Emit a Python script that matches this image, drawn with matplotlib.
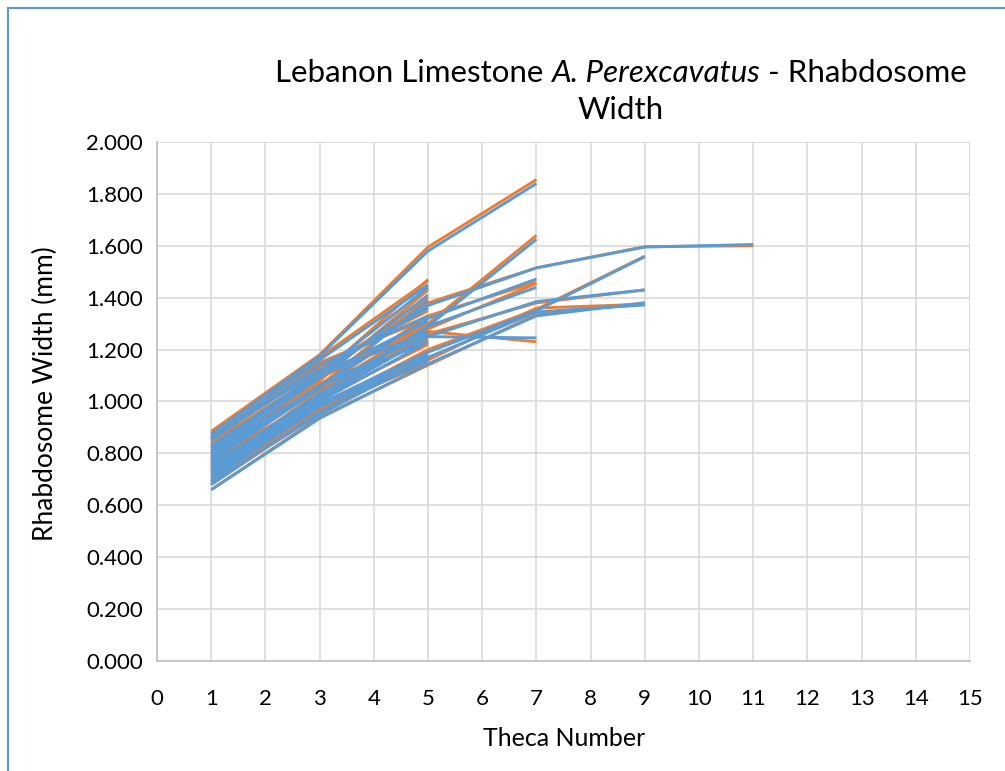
import matplotlib
matplotlib.use("Agg")
import matplotlib.pyplot as plt
from matplotlib.patches import Rectangle

plt.rcParams['font.family'] = ['Lato', 'DejaVu Sans']

theca = [1, 3, 5, 7, 9, 11]

# Orange series (one per specimen)
orange = [
    [0.885, 1.180, 1.595, 1.855],
    [0.870, 1.170, 1.465],
    [0.820, 1.100, 1.470],
    [0.790, 1.080, 1.430],
    [0.760, 1.060, 1.400],
    [0.740, 1.040, 1.300, 1.640],
    [0.800, 1.120, 1.380, 1.515, 1.597, 1.600],
    [0.780, 1.050, 1.330, 1.460],
    [0.720, 1.000, 1.280, 1.455],
    [0.770, 1.020, 1.270, 1.230],
    [0.700, 0.980, 1.200, 1.355, 1.560],
    [0.750, 1.030, 1.260, 1.380, 1.430],
    [0.680, 0.960, 1.160, 1.360, 1.375],
    [0.660, 0.940, 1.140, 1.335, 1.380],
    [0.830, 1.090, 1.300],
    [0.810, 1.050, 1.250],
    [0.730, 1.010, 1.220],
    [0.710, 0.990, 1.190],
    [0.690, 0.970, 1.170],
    [0.850, 1.130, 1.350],
    [0.860, 1.150, 1.320],
    [0.770, 1.070, 1.240],
    [0.740, 0.970, 1.150],
    [0.840, 1.110, 1.280],
]

# Blue series (one per specimen)
blue = [
    [0.875, 1.175, 1.580, 1.840],
    [0.860, 1.160, 1.450],
    [0.830, 1.110, 1.440],
    [0.800, 1.090, 1.410],
    [0.770, 1.050, 1.390],
    [0.750, 1.030, 1.290, 1.625],
    [0.810, 1.110, 1.370, 1.515, 1.595, 1.605],
    [0.790, 1.060, 1.320, 1.472],
    [0.730, 1.010, 1.290, 1.440],
    [0.760, 1.010, 1.250, 1.245],
    [0.710, 0.990, 1.190, 1.350, 1.558],
    [0.740, 1.020, 1.250, 1.385, 1.430],
    [0.690, 0.950, 1.170, 1.345, 1.372],
    [0.660, 0.935, 1.145, 1.330, 1.380],
    [0.820, 1.100, 1.310],
    [0.800, 1.060, 1.260],
    [0.720, 1.000, 1.230],
    [0.700, 0.980, 1.180],
    [0.680, 0.960, 1.160],
    [0.860, 1.120, 1.360],
    [0.850, 1.140, 1.330],
    [0.780, 1.060, 1.230],
    [0.730, 0.980, 1.160],
    [0.830, 1.100, 1.270],
]

title_parts = [("Lebanon Limestone ", 'normal'),
               ("A. Perexcavatus", 'italic'),
               (" - Rhabdosome", 'normal')]
title_line2 = "Width"

ORANGE = '#ED7D31'
BLUE = '#5B9BD5'
GRID = '#D9D9D9'

fig = plt.figure(figsize=(10.05, 7.71), dpi=100)
ax = fig.add_axes([157/1005, 1-661/771, (970-157)/1005, (661-142)/771])

for s in orange:
    ax.plot(theca[:len(s)], s, color=ORANGE, lw=2.1, solid_capstyle='butt')
for s in blue:
    ax.plot(theca[:len(s)], s, color=BLUE, lw=2.1, solid_capstyle='butt')

ax.set_xlim(0, 15)
ax.set_ylim(0, 2.0)
ax.set_xticks(range(0, 16))
ax.set_yticks([i * 0.2 for i in range(11)])
ax.set_yticklabels([f"{i*0.2:.3f}" for i in range(11)])
ax.grid(True, color=GRID, lw=1.2)
ax.set_axisbelow(True)
for sp in ['top', 'right']:
    ax.spines[sp].set_visible(False)
for sp in ['left', 'bottom']:
    ax.spines[sp].set_color('#BFBFBF')
    ax.spines[sp].set_linewidth(1.2)
ax.tick_params(axis='both', length=0, labelsize=16, colors='black')
ax.tick_params(axis='y', pad=10)
ax.tick_params(axis='x', pad=20)

fig.text(564/1005, 1-738/771, 'Theca Number', ha='center', va='center', fontsize=18)
fig.text(45/1005, 1-394/771, 'Rhabdosome Width (mm)', ha='center', va='center',
         rotation=90, fontsize=19)

# Title composed of normal + italic pieces, centred as a whole
fs = 22.5
renderer = fig.canvas.get_renderer()
texts = []
for s, style in title_parts:
    t = fig.text(0, 1-73/771, s, ha='left', va='center', fontsize=fs, style=style)
    texts.append(t)
widths = [t.get_window_extent(renderer).width for t in texts]
total = sum(widths)
x0 = 621 - total / 2
for t, w in zip(texts, widths):
    t.set_x(x0 / 1005)
    x0 += w
fig.text(621/1005, 1-110/771, title_line2, ha='center', va='center', fontsize=fs)

fig.patches.append(Rectangle((8/1005, -0.1), 1.2, 1 - 8/771 + 0.1,
                             transform=fig.transFigure, fill=False,
                             edgecolor=BLUE, lw=1.5))

fig.savefig('out.png', dpi=100)
